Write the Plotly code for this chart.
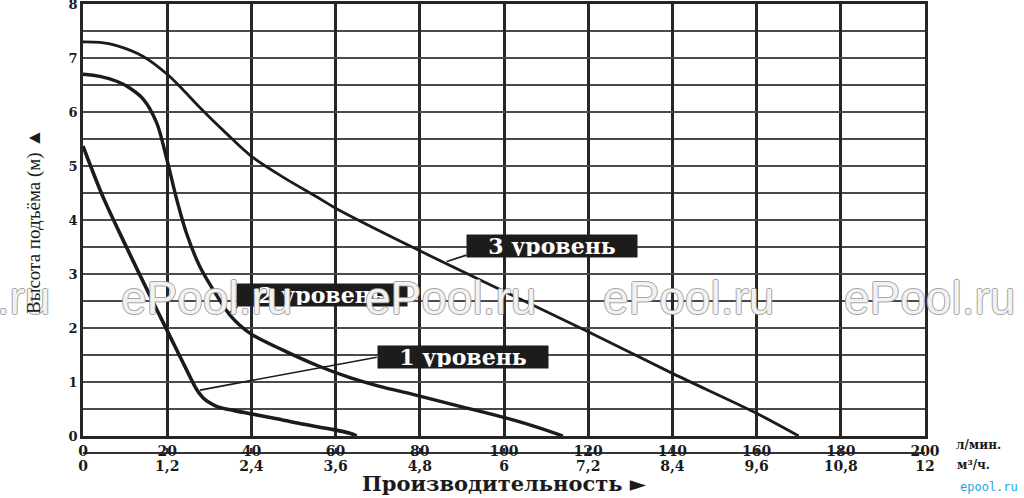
import plotly.graph_objects as go

# ---- data ----
# flow in l/min, head in m
lvl1_x = [0, 4.8, 10, 15.9, 20.7, 24, 27, 28.5, 30, 32, 36, 40, 46, 51.5, 58.7, 63.4, 65]
lvl1_y = [5.37, 4.42, 3.55, 2.6, 1.84, 1.32, 0.86, 0.71, 0.62, 0.54, 0.47, 0.41, 0.32, 0.23, 0.13, 0.05, 0]

lvl2_x = [0, 4, 8, 11, 14.3, 17.5, 19.9, 22.3, 24.6, 27.8, 31.8, 34.9, 39.7, 47.5, 55.5, 63.4, 70, 80, 90, 100.6, 108, 114]
lvl2_y = [6.7, 6.66, 6.57, 6.45, 6.24, 5.8, 5.13, 4.37, 3.75, 3.13, 2.6, 2.24, 1.9, 1.59, 1.31, 1.08, 0.93, 0.74, 0.54, 0.33, 0.16, 0]

lvl3_x = [0, 4, 8, 14.3, 20, 23.8, 27.8, 34.1, 40, 47.6, 55.5, 60, 80, 100, 120, 140, 160, 170]
lvl3_y = [7.3, 7.29, 7.23, 7.03, 6.7, 6.41, 6.08, 5.6, 5.18, 4.79, 4.43, 4.22, 3.43, 2.68, 1.93, 1.16, 0.42, 0]

series_names = ["1 уровень", "2 уровень", "3 уровень"]
label_x = [90.3, 56.8, 111.3]
label_y = [1.47, 2.62, 3.52]
pointer_x = [[27.8, 69.8], [34.5, 36.7], [86.4, 91.1]]
pointer_y = [[0.85, 1.46], [2.27, 2.39], [3.23, 3.35]]

lpm_ticks = [0, 20, 40, 60, 80, 100, 120, 140, 160, 180, 200]
m3h_labels = ["0", "1,2", "2,4", "3,6", "4,8", "6", "7,2", "8,4", "9,6", "10,8", "12"]
head_ticks = [0, 1, 2, 3, 4, 5, 6, 7, 8]

x_title = "Производительность ►"
y_title = "Высота подъёма (м) ▲"
unit_lpm = "л/мин."
unit_m3h = "м³/ч."
watermark = "ePool.ru"
watermark_px = [-36, 206, 450, 688, 929]

# ---- figure ----
INK = "#1b1b1b"
SERIF_B = "DejaVu Serif"
fig = go.Figure()

for xs, ys, w in [(lvl1_x, lvl1_y, 3.6), (lvl2_x, lvl2_y, 3.4), (lvl3_x, lvl3_y, 2.8)]:
    fig.add_trace(go.Scatter(x=xs, y=ys, mode="lines",
                             line=dict(color=INK, width=w, shape="spline", smoothing=0.9),
                             showlegend=False, hoverinfo="skip"))

for px, py in zip(pointer_x, pointer_y):
    fig.add_trace(go.Scatter(x=px, y=py, mode="lines", line=dict(color=INK, width=1.6),
                             showlegend=False, hoverinfo="skip"))

# dummy trace for the secondary (m3/h) axis
fig.add_trace(go.Scatter(x=[0, 200], y=[None, None], xaxis="x2", mode="lines",
                         showlegend=False, hoverinfo="skip"))

ann = []
for name, lx, ly in zip(series_names, label_x, label_y):
    ann.append(dict(x=lx, y=ly, xref="x", yref="y", text="<b>%s</b>" % name, showarrow=False,
                    xanchor="center", yanchor="middle",
                    bgcolor="#1c1c1c", width=168, height=20, borderpad=1,
                    font=dict(family=SERIF_B, size=22, color="white")))

W0, W1 = 83, 925
H0, H1 = 4, 470


def px2x(p):
    return (p - W0) / (W1 - W0)


def py2y(p):
    return (H1 - p) / (H1 - H0)


def paper_text(px, py, text, font, **kw):
    d = dict(x=px2x(px), y=py2y(py), xref="paper", yref="paper", text=text, showarrow=False,
             xanchor="center", yanchor="middle", font=font)
    d.update(kw)
    return d


for wx in watermark_px:
    ann.append(paper_text(wx, 298, watermark,
                          dict(family="Liberation Sans", size=46, color="rgba(255,255,255,0.88)",
                               shadow="1px 0 0 #9a9a9a, -1px 0 0 #9a9a9a, 0 1px 0 #9a9a9a, 0 -1px 0 #9a9a9a")))
ann.append(paper_text(504, 483, "<b>%s</b>" % x_title, dict(family=SERIF_B, size=21, color=INK)))
ann.append(paper_text(34, 222, y_title, dict(family="Liberation Serif", size=19, color=INK), textangle=-90))
ann.append(paper_text(978, 445, "<b>%s</b>" % unit_lpm, dict(family=SERIF_B, size=12, color=INK)))
ann.append(paper_text(973, 465, "<b>%s</b>" % unit_m3h, dict(family=SERIF_B, size=12, color=INK)))
ann.append(paper_text(989, 487, "epool.ru", dict(family="DejaVu Sans Mono", size=12, color="#22a7e0")))

y_bottom = py2y(436)
fig.update_layout(
    width=1024, height=498,
    margin=dict(l=W0, r=1024 - W1, t=H0, b=498 - H1, autoexpand=False),
    paper_bgcolor="white", plot_bgcolor="white",
    showlegend=False,
    xaxis=dict(range=[0, 200], tickvals=lpm_ticks, showgrid=True, gridcolor="#262626", gridwidth=2.6,
               showline=True, linecolor="#262626", linewidth=2.6, mirror=True, zeroline=False,
               ticks="", automargin=False,
               tickfont=dict(family=SERIF_B, size=14, color=INK, weight="bold"),
               anchor="y", fixedrange=True),
    xaxis2=dict(range=[0, 200], overlaying="x", anchor="free", position=py2y(453), side="bottom",
                tickvals=lpm_ticks, ticktext=m3h_labels, showgrid=False, zeroline=False,
                showline=True, linecolor="#333", linewidth=2, ticks="inside", ticklen=4,
                tickwidth=2, tickcolor="#333", automargin=False,
                tickfont=dict(family=SERIF_B, size=14, color=INK, weight="bold")),
    yaxis=dict(range=[0, 8.001], domain=[y_bottom, 1], tickvals=head_ticks, showgrid=True,
               gridcolor="#4a4a4a", gridwidth=2, showline=True, linecolor="#262626", linewidth=2.6,
               mirror=True, zeroline=False, ticks="", automargin=False, ticklabeloverflow="allow",
               tickfont=dict(family=SERIF_B, size=13, color=INK, weight="bold"),
               minor=dict(dtick=0.5, showgrid=True, gridcolor="#4a4a4a", gridwidth=2)),
    annotations=ann,
)

fig.write_html("out.html", config={"displayModeBar": False},
               post_script="document.body.style.margin='0px';")
